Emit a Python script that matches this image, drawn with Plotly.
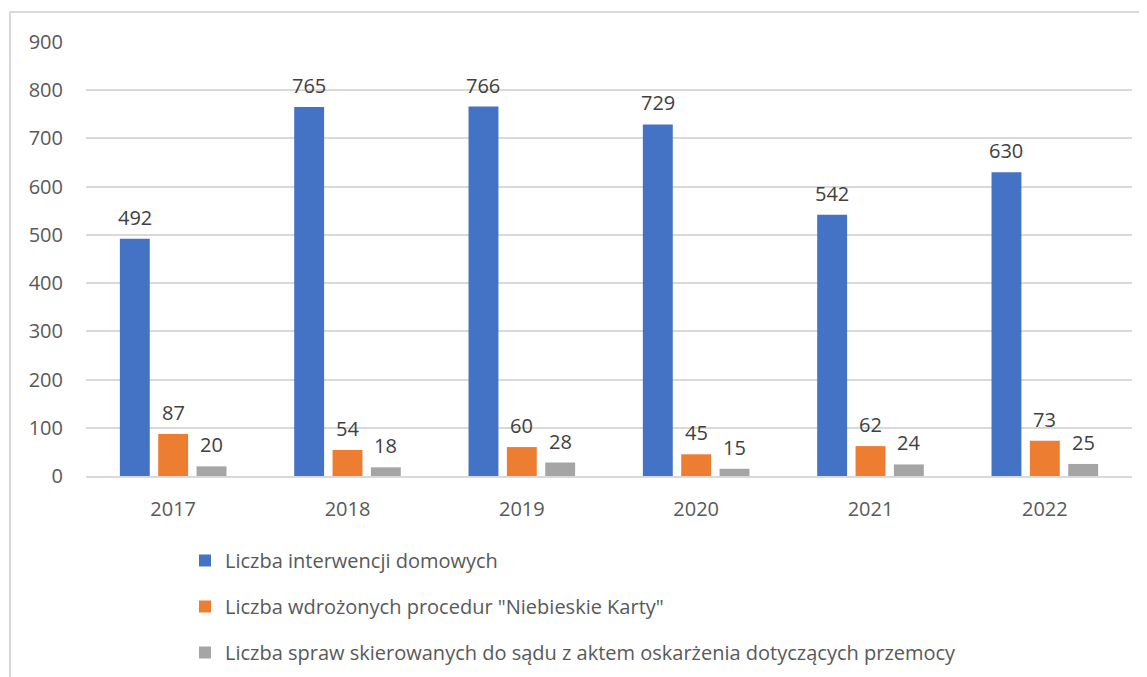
import plotly.graph_objects as go

years = ["2017", "2018", "2019", "2020", "2021", "2022"]
interwencje = [492, 765, 766, 729, 542, 630]
niebieskie_karty = [87, 54, 60, 45, 62, 73]
sprawy_sad = [20, 18, 28, 15, 24, 25]

series_names = [
    "Liczba interwencji domowych",
    "Liczba wdrożonych procedur \"Niebieskie Karty\"",
    "Liczba spraw skierowanych do sądu z aktem oskarżenia dotyczących przemocy",
]
colors = ["#4472C4", "#ED7D31", "#A5A5A5"]
FONT = "Open Sans, Segoe UI, sans-serif"
FS = 20

# page offset (body margin) is 8px
OFF = 8
W, H = 1139, 669
L, R, T, B = 78, 15, 34, 201
pw, ph = W - L - R, H - T - B
BARGAP, GROUPGAP = 0.34, 0.22

fig = go.Figure()
all_vals = [interwencje, niebieskie_karty, sprawy_sad]
slot = pw / len(years) * (1 - BARGAP) / 3
for i, (name, vals, col) in enumerate(zip(series_names, all_vals, colors)):
    fig.add_trace(go.Bar(
        x=years, y=vals, name=name, marker_color=col, marker_line_width=0,
        legendgroup=f"g{i}",
    ))
    for j, v in enumerate(vals):
        fig.add_annotation(
            x=j, y=v, xref="x", yref="y", text=str(v), showarrow=False,
            xshift=(i - 1) * slot, yanchor="bottom", yshift=6,
            font=dict(family=FONT, size=FS, color="#404040"),
        )

fig.update_layout(
    width=W, height=H,
    margin=dict(l=L, r=R, t=T, b=B, autoexpand=False),
    paper_bgcolor="white", plot_bgcolor="white",
    barmode="group", bargap=BARGAP, bargroupgap=GROUPGAP,
    font=dict(family=FONT, size=FS, color="#595959"),
    showlegend=True,
    legend=dict(
        orientation="v", traceorder="grouped", tracegroupgap=17,
        x=(185 - OFF - L) / pw, xanchor="left",
        y=(T + ph - (541 - OFF)) / ph, yanchor="top",
        font=dict(family=FONT, size=FS, color="#595959"),
        itemwidth=30,
    ),
    xaxis=dict(
        type="category", range=[-0.5, len(years) - 0.5],
        showgrid=False, showline=True, linecolor="#d9d9d9", linewidth=2,
        ticks="", ticklabelstandoff=14,
        tickfont=dict(family=FONT, size=FS, color="#595959"),
    ),
    yaxis=dict(
        range=[0, 900], dtick=100, showgrid=True, gridcolor="#d9d9d9", gridwidth=2,
        zeroline=False, showline=False, ticks="", ticklabelstandoff=22,
        tickfont=dict(family=FONT, size=FS, color="#595959"),
    ),
    shapes=[dict(
        type="rect", xref="paper", yref="paper",
        x0=(10 - OFF - L) / pw, x1=(W + 40 - L) / pw,
        y0=(T + ph - (H + 40)) / ph, y1=(T + ph - (12 - OFF)) / ph,
        line=dict(color="#d9d9d9", width=2), fillcolor="rgba(0,0,0,0)", layer="below",
    )],
)

fig.write_html("out.html")
